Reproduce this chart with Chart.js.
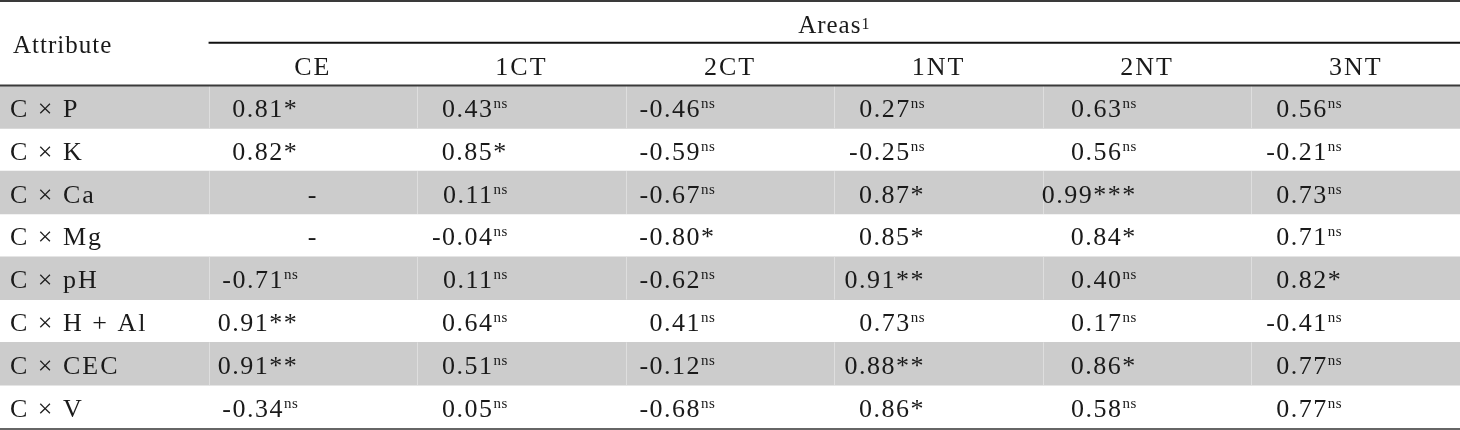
<!DOCTYPE html>
<html>
<head>
<meta charset="utf-8">
<script src="https://cdn.jsdelivr.net/npm/chart.js@4.4.1/dist/chart.umd.min.js"></script>
<style>
  html, body { margin: 0; padding: 0; background: #fff; }
</style>
</head>
<body>
<canvas id="tableChart" width="1460" height="430"></canvas>
<script>
// row labels and column (area) labels
const attributes = ['C × P', 'C × K', 'C × Ca', 'C × Mg', 'C × pH', 'C × H + Al', 'C × CEC', 'C × V'];
const areas = ['CE', '1CT', '2CT', '1NT', '2NT', '3NT'];

// correlation values per area (null = "-") and their significance marks
const ce = [0.81, 0.82, null, null, -0.71, 0.91, 0.91, -0.34];
const ceSig = ['*', '*', '', '', 'ns', '**', '**', 'ns'];
const ct1 = [0.43, 0.85, 0.11, -0.04, 0.11, 0.64, 0.51, 0.05];
const ct1Sig = ['ns', '*', 'ns', 'ns', 'ns', 'ns', 'ns', 'ns'];
const ct2 = [-0.46, -0.59, -0.67, -0.80, -0.62, 0.41, -0.12, -0.68];
const ct2Sig = ['ns', 'ns', 'ns', '*', 'ns', 'ns', 'ns', 'ns'];
const nt1 = [0.27, -0.25, 0.87, 0.85, 0.91, 0.73, 0.88, 0.86];
const nt1Sig = ['ns', 'ns', '*', '*', '**', 'ns', '**', '*'];
const nt2 = [0.63, 0.56, 0.99, 0.84, 0.40, 0.17, 0.86, 0.58];
const nt2Sig = ['ns', 'ns', '***', '*', 'ns', 'ns', '*', 'ns'];
const nt3 = [0.56, -0.21, 0.73, 0.71, 0.82, -0.41, 0.77, 0.77];
const nt3Sig = ['ns', 'ns', 'ns', 'ns', '*', 'ns', 'ns', 'ns'];

const headerTitle = 'Areas';
const headerNote = '1';
const firstHeader = 'Attribute';

const columns = [
  { values: ce, sig: ceSig },
  { values: ct1, sig: ct1Sig },
  { values: ct2, sig: ct2Sig },
  { values: nt1, sig: nt1Sig },
  { values: nt2, sig: nt2Sig },
  { values: nt3, sig: nt3Sig }
];

// where the numbers end inside each column (fraction of the column width)
const rightEdge = [0.43, 0.435, 0.43, 0.435, 0.45, 0.435];

// two header slots on top, then one slot per attribute
const slots = ['head1', 'head2'].concat(attributes);
const nCols = areas.length + 1;
const shading = slots.map((s, i) => (i >= 2 && (i - 2) % 2 === 0) ? [0, nCols] : null);

const FONT = "'Liberation Serif', 'Times New Roman', serif";
const INK = '#1a1a1a';
const BIG = '26px ';

function fmt(v) {
  return v.toFixed(2);
}

const tablePlugin = {
  id: 'tableText',
  afterDatasetsDraw(chart) {
    const ctx = chart.ctx;
    const x = chart.scales.x;
    const y = chart.scales.y;
    const area = chart.chartArea;
    const slotH = Math.abs(y.getPixelForValue(1) - y.getPixelForValue(0));

    ctx.save();

    // faint cell separators inside the shaded rows
    ctx.strokeStyle = '#dedede';
    ctx.lineWidth = 1;
    shading.forEach((s, i) => {
      if (!s) return;
      const top = y.getPixelForValue(i) - slotH / 2;
      for (let c = 1; c < nCols; c++) {
        const px = Math.round(x.getPixelForValue(c)) + 0.5;
        ctx.beginPath();
        ctx.moveTo(px, top);
        ctx.lineTo(px, top + slotH);
        ctx.stroke();
      }
    });

    // rules
    const headBottom = y.getPixelForValue(1) + slotH / 2;
    const areasRule = y.getPixelForValue(0) + slotH / 2;
    const bottom = y.getPixelForValue(slots.length - 1) + slotH / 2;
    function rule(x0, x1, py, w, col) {
      ctx.strokeStyle = col;
      ctx.lineWidth = w;
      ctx.beginPath();
      ctx.moveTo(x0, py);
      ctx.lineTo(x1, py);
      ctx.stroke();
    }
    rule(area.left, area.right, area.top + 1, 2, '#3a3a3a');
    rule(x.getPixelForValue(1), area.right, areasRule, 2, '#111');
    rule(area.left, area.right, headBottom, 2, '#3a3a3a');
    rule(area.left, area.right, bottom + 1, 2, '#666');

    ctx.fillStyle = INK;
    ctx.textBaseline = 'alphabetic';

    // header texts
    ctx.font = '25px ' + FONT;
    ctx.letterSpacing = '1px';
    ctx.textAlign = 'left';
    ctx.fillText(firstHeader, x.getPixelForValue(0) + 13, areasRule + 10);

    const titleW = ctx.measureText(headerTitle).width;
    ctx.font = '16px ' + FONT;
    const noteW = ctx.measureText(headerNote).width;
    const titleX = x.getPixelForValue((1 + nCols) / 2) - (titleW + noteW) / 2;
    ctx.font = '25px ' + FONT;
    ctx.fillText(headerTitle, titleX, y.getPixelForValue(0) + 12);
    ctx.font = '16px ' + FONT;
    ctx.fillText(headerNote, titleX + titleW, y.getPixelForValue(0) + 8);

    ctx.font = BIG + FONT;
    ctx.letterSpacing = '2px';
    ctx.textAlign = 'center';
    areas.forEach((a, j) => {
      ctx.fillText(a, x.getPixelForValue(j + 1.5), y.getPixelForValue(1) + 11);
    });

    // row labels
    ctx.textAlign = 'left';
    attributes.forEach((a, i) => {
      ctx.fillText(a, x.getPixelForValue(0) + 10, y.getPixelForValue(i + 2) + 10);
    });

    // values
    columns.forEach((col, j) => {
      col.values.forEach((v, i) => {
        const base = y.getPixelForValue(i + 2) + 10;
        ctx.font = BIG + FONT;
        ctx.letterSpacing = '1.5px';
        if (v === null) {
          ctx.textAlign = 'center';
          ctx.fillText('-', x.getPixelForValue(j + 1.5), base);
          return;
        }
        const mark = col.sig[i];
        const main = fmt(v) + (mark === 'ns' ? '' : mark);
        const sup = mark === 'ns' ? 'ns' : '';
        ctx.textAlign = 'left';
        const mainW = ctx.measureText(main).width;
        ctx.font = '15px ' + FONT;
        ctx.letterSpacing = '0.5px';
        const supW = sup ? ctx.measureText(sup).width : 0;
        const right = x.getPixelForValue(j + 1 + rightEdge[j]);
        const start = right - mainW - supW;
        ctx.font = BIG + FONT;
        ctx.letterSpacing = '1.5px';
        ctx.fillText(main, start, base);
        if (sup) {
          ctx.font = '15px ' + FONT;
          ctx.letterSpacing = '0.5px';
          ctx.fillText(sup, start + mainW, base - 9);
        }
      });
    });

    ctx.restore();
  }
};

new Chart(document.getElementById('tableChart'), {
  type: 'bar',
  data: {
    labels: slots,
    datasets: [{
      data: shading,
      backgroundColor: '#cccccc',
      borderWidth: 0,
      borderSkipped: false,
      barPercentage: 1,
      categoryPercentage: 1
    }]
  },
  options: {
    indexAxis: 'y',
    responsive: false,
    animation: false,
    devicePixelRatio: 1,
    layout: { padding: { top: 0, left: 0, right: 0, bottom: 2 } },
    plugins: { legend: { display: false }, tooltip: { enabled: false } },
    scales: {
      x: { type: 'linear', min: 0, max: nCols, display: false },
      y: { type: 'category', display: false }
    }
  },
  plugins: [tablePlugin]
});
</script>
</body>
</html>
